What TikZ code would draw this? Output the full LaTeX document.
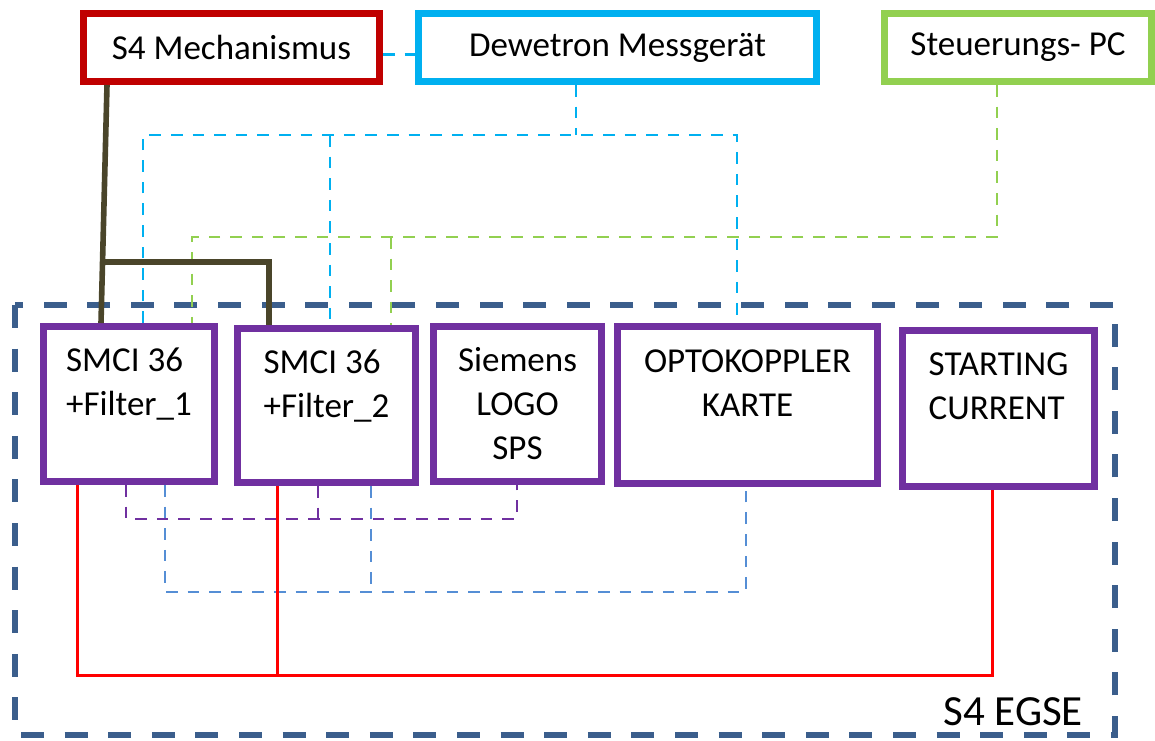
\documentclass[tikz,border=0pt]{standalone}
\usepackage{fontspec}
\setmainfont{Carlito}
\usepackage{xcolor}
\usetikzlibrary{arrows.meta}
\definecolor{mechred}{HTML}{C00000}
\definecolor{dewcyan}{HTML}{00B0F0}
\definecolor{pcgreen}{HTML}{92D050}
\definecolor{cardpurple}{HTML}{7030A0}
\definecolor{egseblue}{HTML}{3B5E8C}
\definecolor{busblue}{HTML}{558ED5}
\definecolor{mechbrown}{HTML}{4A452A}
\definecolor{powerred}{HTML}{FF0000}

\begin{document}
\begin{tikzpicture}[x=0.5pt,y=-0.5pt,
  box/.style={draw,line width=3.5pt,fill=white,inner sep=0pt,font=\fontsize{17.5}{22}\selectfont},
  topbox/.style={box,minimum height=34pt},
  card/.style={box,draw=cardpurple},
  wire/.style={line width=1.35pt,dash pattern=on 5.8pt off 5pt},
  egse/.style={draw=egseblue,line width=2.8pt,dash pattern=on 11.5pt off 10.3pt}]
\useasboundingbox (0,0) rectangle (1155,740);
% obere Geraete
\node[topbox,draw=mechred,minimum width=148pt] (mech) at (231.5,47.5) {S4 Mechanismus};
\node[topbox,draw=dewcyan,minimum width=199pt] (dew) at (617.5,47.5) {Dewetron Messgerät};
\node[topbox,draw=pcgreen,minimum width=133.5pt] (pc) at (1018,47.5) {Steuerungs- PC};
% EGSE Rahmen
\draw[egse] (15,305) rectangle (1115,735);
\node[anchor=base east,font=\fontsize{21.5}{26}\selectfont] (egselabel) at (1090,725) {S4 EGSE};
% Karten
\node[card,minimum width=85.5pt,minimum height=77.5pt,align=left] (smci1) at (129,404) {SMCI 36\\+Filter\_1\\\mbox{}};
\node[card,minimum width=89pt,minimum height=77pt,align=left] (smci2) at (326.5,405.5) {SMCI 36\\+Filter\_2\\\mbox{}};
\node[card,minimum width=84pt,minimum height=77.5pt,align=center] (siemens) at (517.5,404) {Siemens\\LOGO\\SPS};
\node[card,minimum width=130pt,minimum height=78.5pt,align=center] (opto) at (747.5,405) {OPTOKOPPLER\\KARTE\\\mbox{}};
\node[card,minimum width=96pt,minimum height=78pt,align=left] (start) at (998.5,408.5) {STARTING\\CURRENT\\\mbox{}};
% Dewetron
\coordinate (c0) at (143,135);
\coordinate (c1) at (330,135);
\coordinate (c2) at (576,135);
\coordinate (c3) at (737,135);
\draw[wire,dewcyan] ([yshift=-3.5pt]mech.east) -- ([yshift=-3.5pt]dew.west);
\draw[wire,dewcyan] (dew.south -| c2) -- (c2);
\draw[wire,dewcyan] (smci1.north -| c0) -- (c0) -- (c3) -- (opto.north -| c3);
\draw[wire,dewcyan] (c1) -- (smci2.north -| c1);
% Steuerungs-PC
\coordinate (g0) at (192,237);
\coordinate (g1) at (391,237);
\coordinate (g2) at (997,237);
\draw[wire,pcgreen] (pc.south -| g2) -- (g2) -- (g0) -- (smci1.north -| g0);
\draw[wire,pcgreen] (g1) -- (smci2.north -| g1);
% Mechanismus
\coordinate (m0) at (107,262);
\coordinate (m1) at (101,262);
\coordinate (m2) at (103,262);
\coordinate (m3) at (269,262);
\draw[mechbrown,line width=2.8pt] (mech.south -| m0) -- (smci1.north -| m1);
\draw[mechbrown,line width=2.8pt] (m2) -- (m3) -- (smci2.north -| m3);
% Bus unten
\coordinate (p0) at (126,519);
\coordinate (p1) at (318,519);
\coordinate (p2) at (517,519);
\draw[wire,cardpurple] (smci1.south -| p0) -- (p0) -- (p2) -- (siemens.south -| p2);
\draw[wire,cardpurple] (smci2.south -| p1) -- (p1);
\coordinate (b0) at (165,592);
\coordinate (b1) at (371,592);
\coordinate (b2) at (746,592);
\draw[wire,busblue] (smci1.south -| b0) -- (b0) -- (b2) -- (opto.south -| b2);
\draw[wire,busblue] (smci2.south -| b1) -- (b1);
% Versorgung
\coordinate (r0) at (77,675);
\coordinate (r1) at (277,675);
\coordinate (r2) at (992,675);
\draw[powerred,line width=1.5pt] (smci1.south -| r0) -- (r0) -- (r2) -- (start.south -| r2);
\draw[powerred,line width=1.5pt] (smci2.south -| r1) -- (r1);
\end{tikzpicture}
\end{document}
